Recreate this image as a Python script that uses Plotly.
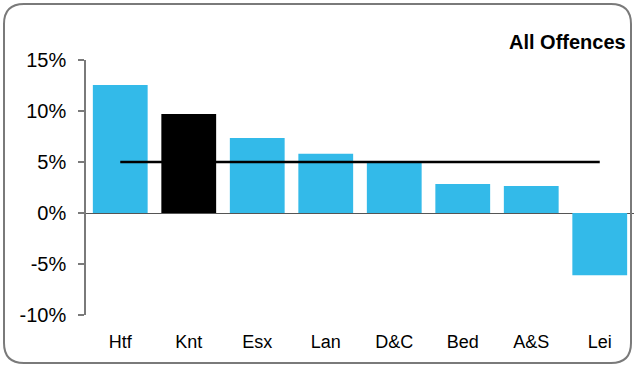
import plotly.graph_objects as go

categories = ["Htf", "Knt", "Esx", "Lan", "D&C", "Bed", "A&S", "Lei"]
values = [12.55, 9.7, 7.35, 5.8, 5.0, 2.85, 2.65, -6.1]
bar_colors = ["#33BAE9", "#000000", "#33BAE9", "#33BAE9", "#33BAE9", "#33BAE9", "#33BAE9", "#33BAE9"]
average = [5.0, 5.0, 5.0, 5.0, 5.0, 5.0, 5.0, 5.0]
y_ticks = [-10, -5, 0, 5, 10, 15]
y_tick_labels = ["-10%", "-5%", "0%", "5%", "10%", "15%"]
title_text = "All Offences"

W, H = 634, 366
L, R, T, B = 86, 0, 60, 51
PW, PH = W - L - R, H - T - B

def px(x):
    return (x - L) / PW

def py(y):
    return (H - B - y) / PH

fig = go.Figure()
fig.add_trace(go.Bar(x=categories, y=values, marker=dict(color=bar_colors, line=dict(width=0)),
                     width=0.8, showlegend=False))
fig.add_trace(go.Scatter(x=categories, y=average, mode="lines",
                         line=dict(color="#000000", width=2.5), showlegend=False))

# rounded border
x0, y0, x1, y1, r = 4, 4, 631, 363, 20
path = (f"M {px(x0+r)},{py(y0)} L {px(x1-r)},{py(y0)} Q {px(x1)},{py(y0)} {px(x1)},{py(y0+r)} "
        f"L {px(x1)},{py(y1-r)} Q {px(x1)},{py(y1)} {px(x1-r)},{py(y1)} "
        f"L {px(x0+r)},{py(y1)} Q {px(x0)},{py(y1)} {px(x0)},{py(y1-r)} "
        f"L {px(x0)},{py(y0+r)} Q {px(x0)},{py(y0)} {px(x0+r)},{py(y0)} Z")
fig.add_shape(type="path", path=path, xref="paper", yref="paper",
              line=dict(color="#7a7a7a", width=2), layer="above")

fig.add_annotation(text=f"<b>{title_text}</b>", xref="paper", yref="paper",
                   x=px(628), y=py(42), xanchor="right", yanchor="middle", showarrow=False,
                   font=dict(family="Liberation Sans, Arial", size=20, color="#000000"))

fig.update_layout(
    width=W, height=H, margin=dict(l=L, r=R, t=T, b=B),
    paper_bgcolor="white", plot_bgcolor="white",
    bargap=0.2,
    font=dict(family="Liberation Sans, Arial", color="#000000"),
    xaxis=dict(showgrid=False, showline=False, ticks="", tickfont=dict(size=18),
               ticklabelstandoff=14, range=[-0.5, 7.5]),
    yaxis=dict(range=[-10, 15], tickvals=y_ticks, ticktext=y_tick_labels, showgrid=False,
               showline=True, linecolor="#7a7a7a", linewidth=1.5, ticks="outside", ticklen=6,
               tickcolor="#7a7a7a", tickwidth=1.5, tickfont=dict(size=20),
               ticklabelstandoff=8,
               zeroline=True, zerolinecolor="#555555", zerolinewidth=1),
)
fig.write_html("out.html", config={"displayModeBar": False},
               post_script="document.body.style.margin='0';document.body.style.overflow='hidden';")
